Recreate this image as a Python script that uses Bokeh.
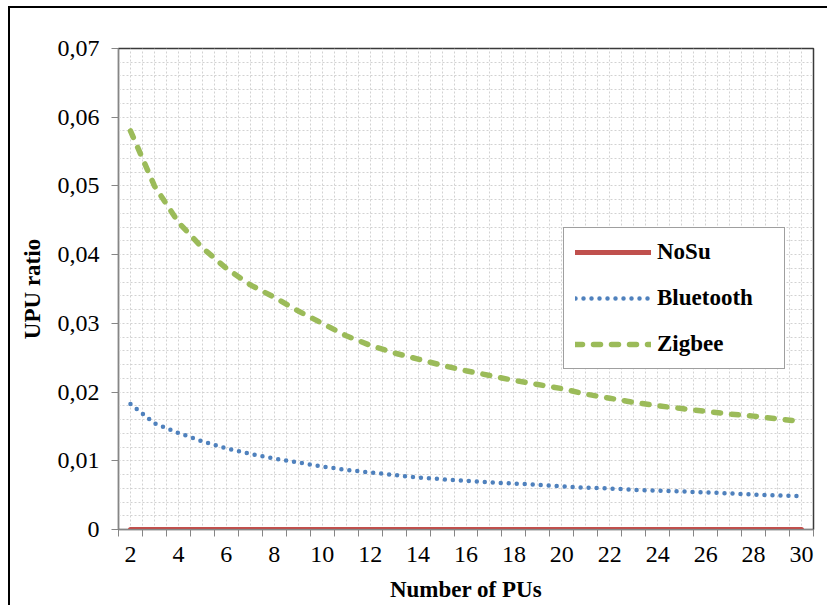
from bokeh.plotting import figure
from bokeh.models import FixedTicker, Legend, LegendItem, InlineStyleSheet, Range1d
from bokeh.embed import file_html
from bokeh.resources import INLINE

# ---- data ----
pus = list(range(2, 31))
nosu = [0.0] * len(pus)
bluetooth = [0.01828, 0.01546, 0.01406, 0.01282, 0.01180, 0.01100, 0.01033, 0.00977,
             0.00916, 0.00868, 0.00831, 0.00793, 0.00756, 0.00732, 0.00710, 0.00684,
             0.00669, 0.00650, 0.00628, 0.00608, 0.00596, 0.00578, 0.00565, 0.00553,
             0.00540, 0.00526, 0.00509, 0.00496, 0.00483]
zigbee = [0.0580, 0.0500, 0.0447, 0.0410, 0.0380, 0.0356, 0.0338, 0.0318, 0.0300,
          0.0282, 0.0268, 0.0257, 0.0248, 0.0239, 0.0231, 0.0224, 0.0217, 0.0211,
          0.0205, 0.0197, 0.0191, 0.0185, 0.0180, 0.0176, 0.0172, 0.0168, 0.0165,
          0.0161, 0.0157]
x_label_values = pus[::2]
x_labels = [str(v) for v in x_label_values]
y_ticks = [0, 0.01, 0.02, 0.03, 0.04, 0.05, 0.06, 0.07]
y_labels = ["0", "0,01", "0,02", "0,03", "0,04", "0,05", "0,06", "0,07"]
series_names = ["NoSu", "Bluetooth", "Zigbee"]

FONT = "Liberation Serif"

p = figure(width=827, height=605,
           x_range=Range1d(pus[0] - 0.5, pus[-1] + 0.5),
           y_range=Range1d(y_ticks[0], y_ticks[-1]),
           output_backend="svg", toolbar_location=None,
           min_border_left=118, min_border_right=14,
           min_border_top=48, min_border_bottom=76)
p.background_fill_color = "white"
p.border_fill_color = "white"
p.outline_line_color = "#3a3a3a"
p.outline_line_width = 1.5

# category boundaries and half steps
boundaries = [k - 0.5 for k in pus] + [pus[-1] + 0.5]
half_steps = sorted(set(boundaries + pus))

# x axis
xa = p.xaxis[0]
xa.ticker = FixedTicker(ticks=x_label_values, minor_ticks=boundaries)
xa.major_label_overrides = {v: s for v, s in zip(x_label_values, x_labels)}
xa.major_tick_out = 0
xa.major_tick_in = 0
xa.minor_tick_out = 7
xa.minor_tick_in = 0
xa.minor_tick_line_color = "#868686"
xa.axis_line_color = "#868686"
xa.major_label_text_font = FONT
xa.major_label_text_font_size = "24px"
xa.major_label_text_color = "black"
xa.major_label_standoff = 10
xa.axis_label = "Number of PUs"
xa.axis_label_text_font = FONT
xa.axis_label_text_font_size = "23px"
xa.axis_label_text_font_style = "bold"
xa.axis_label_text_color = "black"
xa.axis_label_standoff = 12

# y axis
ya = p.yaxis[0]
ya.ticker = FixedTicker(ticks=y_ticks, minor_ticks=[])
ya.major_label_overrides = {v: s for v, s in zip(y_ticks, y_labels)}
ya.major_tick_out = 7
ya.major_tick_in = 0
ya.major_tick_line_color = "#868686"
ya.axis_line_color = "#868686"
ya.major_label_text_font = FONT
ya.major_label_text_font_size = "24px"
ya.major_label_text_color = "black"
ya.major_label_standoff = 12
ya.axis_label = "UPU ratio"
ya.axis_label_text_font = FONT
ya.axis_label_text_font_size = "23px"
ya.axis_label_text_font_style = "bold"
ya.axis_label_text_color = "black"
ya.axis_label_standoff = 10

# grids
p.xgrid.ticker = FixedTicker(ticks=half_steps)
p.ygrid.ticker = FixedTicker(ticks=[round(i * 0.002, 3) for i in range(36)])
for g in (p.xgrid[0], p.ygrid[0]):
    g.grid_line_color = "#d2d2d2"
    g.grid_line_dash = "2 2"
    g.grid_line_width = 1

# series
r_nosu = p.line(pus, nosu, line_color="#C0504D", line_width=5, line_cap="round")
r_bt = p.line(pus, bluetooth, line_color="#4F81BD", line_width=4.5,
              line_dash="0 8", line_cap="round")
r_zb = p.line(pus, zigbee, line_color="#9BBB59", line_width=5.5,
              line_dash="7 11", line_cap="round")

legend = Legend(items=[LegendItem(label=series_names[0], renderers=[r_nosu]),
                       LegendItem(label=series_names[1], renderers=[r_bt]),
                       LegendItem(label=series_names[2], renderers=[r_zb])],
                location=(445, 160), margin=0, padding=11, spacing=20,
                glyph_width=76, glyph_height=20, label_standoff=6,
                label_width=116, label_height=20)
legend.label_text_font = FONT
legend.label_text_font_size = "23px"
legend.label_text_font_style = "bold"
legend.label_text_color = "black"
legend.border_line_color = "#404040"
legend.border_line_width = 1.5
legend.background_fill_color = "white"
legend.background_fill_alpha = 1.0
p.add_layout(legend, "center")

# outer chart-area border (left and top edges visible in the reference)
p.stylesheets = [InlineStyleSheet(css=":host::after{content:'';position:absolute;"
                                      "left:8px;top:6px;right:0;bottom:0;"
                                      "border-left:2px solid #000;border-top:2px solid #000;"
                                      "pointer-events:none;}")]

open("out.html", "w").write(file_html(p, INLINE))
